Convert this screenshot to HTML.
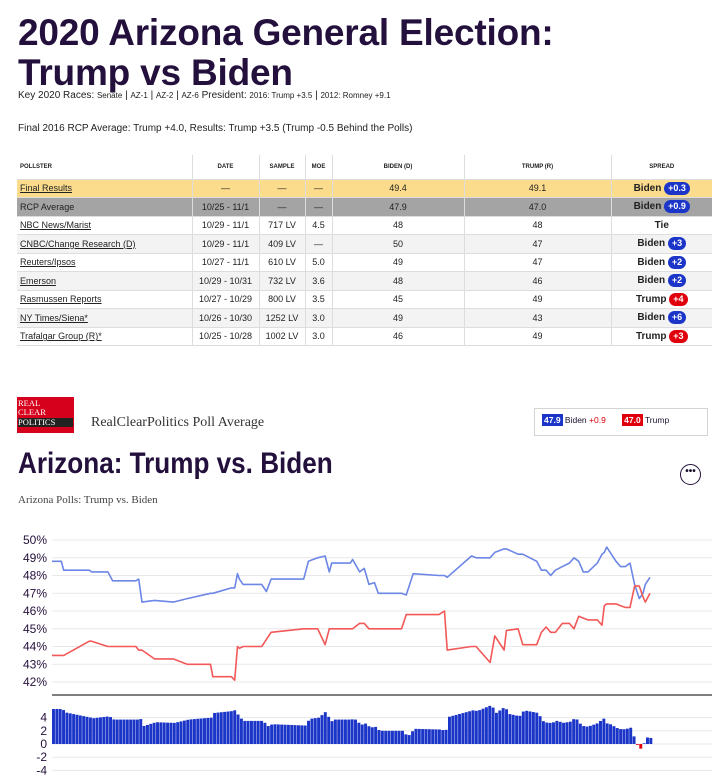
<!DOCTYPE html>
<html><head><meta charset="utf-8">
<style>
*{box-sizing:border-box;margin:0;padding:0}
body{width:719px;height:783px;background:#fff;font-family:"Liberation Sans",sans-serif;color:#1b1030;position:relative;overflow:hidden}
.abs{position:absolute}
h1{position:absolute;left:18px;top:13px;font-size:37px;line-height:40px;font-weight:bold;color:#24103c;letter-spacing:-0.2px}
.key{left:18px;top:90px;font-size:10px;color:#222}
.key small{font-size:8px}
.final{left:18px;top:123px;font-size:10px;color:#222}
table{position:absolute;left:17px;top:155px;width:695px;border-collapse:collapse;font-size:9px;color:#222}
td,th{border-right:1px solid #ddd;text-align:center;height:18.5px;padding:0 3px}
td:last-child,th:last-child{border-right:none}
th{font-size:6px;font-weight:bold;height:24px;font-family:"Liberation Sans Narrow","Liberation Sans",sans-serif}
tr{border-bottom:1px solid #ddd}
td:first-child,th:first-child{text-align:left}
td a{color:#222;text-decoration:underline}
tr.fin{background:#fbdc8c}
tr.rcp{background:#a4a4a4}
tr.alt{background:#f3f3f3}
.b{display:inline-block;border-radius:8px;color:#fff;font-weight:bold;padding:1px 4px;font-size:9px;line-height:11px}
.bl{background:#1b35c8}.rd{background:#e0000b}
.sp{font-weight:bold;font-family:"Liberation Sans Narrow","Liberation Sans",sans-serif;font-size:10px}
.logo{left:17px;top:397px;width:57px;height:36px;background:#d6001c;font-family:"Liberation Serif",serif;color:#fff;font-size:8.5px;line-height:9px;padding:2px 1px}
.logo .p{background:#222;display:block;margin-top:1px}
.serif{font-family:"Liberation Serif",serif}
</style></head><body>
<h1>2020 Arizona General Election:<br>Trump vs Biden</h1>
<div class="abs key">Key 2020 Races: <small>Senate</small> | <small>AZ-1</small> | <small>AZ-2</small> | <small>AZ-6</small> President: <small>2016: Trump +3.5</small> | <small>2012: Romney +9.1</small></div>
<div class="abs final">Final 2016 RCP Average: Trump +4.0, Results: Trump +3.5 (Trump -0.5 Behind the Polls)</div>
<table>
<colgroup><col style="width:175px"><col style="width:67px"><col style="width:46px"><col style="width:27px"><col style="width:132px"><col style="width:147px"><col></colgroup>
<tr><th>POLLSTER</th><th>DATE</th><th>SAMPLE</th><th>MOE</th><th>BIDEN (D)</th><th>TRUMP (R)</th><th>SPREAD</th></tr>
<tr class="fin"><td><a>Final Results</a></td><td>—</td><td>—</td><td>—</td><td>49.4</td><td>49.1</td><td class="sp">Biden <span class="b bl">+0.3</span></td></tr>
<tr class="rcp"><td>RCP Average</td><td>10/25 - 11/1</td><td>—</td><td>—</td><td>47.9</td><td>47.0</td><td class="sp">Biden <span class="b bl">+0.9</span></td></tr>
<tr><td><a>NBC News/Marist</a></td><td>10/29 - 11/1</td><td>717 LV</td><td>4.5</td><td>48</td><td>48</td><td class="sp">Tie</td></tr>
<tr class="alt"><td><a>CNBC/Change Research (D)</a></td><td>10/29 - 11/1</td><td>409 LV</td><td>—</td><td>50</td><td>47</td><td class="sp">Biden <span class="b bl">+3</span></td></tr>
<tr><td><a>Reuters/Ipsos</a></td><td>10/27 - 11/1</td><td>610 LV</td><td>5.0</td><td>49</td><td>47</td><td class="sp">Biden <span class="b bl">+2</span></td></tr>
<tr class="alt"><td><a>Emerson</a></td><td>10/29 - 10/31</td><td>732 LV</td><td>3.6</td><td>48</td><td>46</td><td class="sp">Biden <span class="b bl">+2</span></td></tr>
<tr><td><a>Rasmussen Reports</a></td><td>10/27 - 10/29</td><td>800 LV</td><td>3.5</td><td>45</td><td>49</td><td class="sp">Trump <span class="b rd">+4</span></td></tr>
<tr class="alt"><td><a>NY Times/Siena*</a></td><td>10/26 - 10/30</td><td>1252 LV</td><td>3.0</td><td>49</td><td>43</td><td class="sp">Biden <span class="b bl">+6</span></td></tr>
<tr><td><a>Trafalgar Group (R)*</a></td><td>10/25 - 10/28</td><td>1002 LV</td><td>3.0</td><td>46</td><td>49</td><td class="sp">Trump <span class="b rd">+3</span></td></tr>
</table>

<div class="abs logo">REAL<br>CLEAR<span class="p">POLITICS</span></div>
<div class="abs serif" style="left:91px;top:415px;font-size:14px;color:#333">RealClearPolitics Poll Average</div>
<div class="abs" style="left:534px;top:408px;width:174px;height:28px;border:1px solid #d4d4d4;font-size:8.5px;padding:6px 0 0 7px">
<span style="background:#1b35c8;color:#fff;font-weight:bold;padding:1px 2px">47.9</span> Biden <span style="color:#e0000b">+0.9</span>
<span style="display:inline-block;width:14px"></span><span style="background:#e0000b;color:#fff;font-weight:bold;padding:1px 2px">47.0</span> Trump</div>
<div class="abs" style="left:18px;top:447px;font-size:30px;font-weight:bold;color:#24103c;font-family:'Liberation Sans Narrow','Liberation Sans',sans-serif;transform:scaleX(0.87);transform-origin:left;white-space:nowrap">Arizona: Trump vs. Biden</div>
<div class="abs" style="left:680px;top:464px;width:21px;height:21px;border:1.5px solid #24103c;border-radius:50%;text-align:center;font-size:10px;line-height:14px;font-weight:bold">•••</div>
<div class="abs serif" style="left:18px;top:494px;font-size:11px;color:#444">Arizona Polls: Trump vs. Biden</div>

<svg id="chart" class="abs" style="left:0;top:0" width="719" height="783"></svg>
<script>
// Series sampled on a common day index
const dayIdx=[0,2,2.5,8,8.5,12,13,18,18.6,19.3,22,26,29,34,34.5,38.5,39.2,39.8,40.2,41,45,46,47,54,55,57,58.6,59.5,60,64,64.5,66,67,68,69.2,70,75,76,77.5,83,84.2,84.8,90,91,94,95,97,97.5,100,101,104,105,106,107,108,109.5,111,112,113,114,115,117,118,118.5,119,121,122,123,124,125,126,126.8,127.3,128.3];
const bidenVals=[48.8,48.8,48.3,48.3,48.2,48.2,47.7,47.7,47.8,46.5,46.6,46.5,46.7,47.0,47.0,47.3,47.3,48.1,47.8,47.5,47.5,47.1,47.8,47.8,48.8,49.0,49.1,48.2,48.7,48.7,48.9,48.2,48.4,47.5,47.6,47.0,47.0,46.9,48.1,48.0,48.0,47.9,49.1,49.0,49.0,49.3,49.5,49.5,49.2,49.2,48.8,48.3,48.3,48.0,48.3,48.5,48.7,49.0,48.8,48.2,48.2,48.7,49.2,49.3,49.6,48.8,48.5,48.5,48.7,47.5,46.7,47.0,47.5,47.9];
const trumpVals=[43.5,43.5,43.5,44.3,44.3,44.0,44.0,44.0,43.8,43.8,43.3,43.3,43.0,43.0,42.3,42.3,42.1,44.0,43.9,44.0,44.0,44.4,44.8,45.0,45.0,45.0,44.1,45.0,45.0,45.0,45.0,45.3,45.3,45.0,45.0,45.0,45.0,45.8,45.8,45.8,46.0,43.8,44.0,44.0,43.1,44.6,43.8,44.9,45.0,44.1,44.1,44.8,45.1,44.8,44.8,45.3,45.3,45.0,45.7,45.6,45.5,45.5,45.2,46.3,46.4,46.4,46.3,46.2,46.2,47.4,47.4,46.8,46.5,47.0];
const yTicks=[50,49,48,47,46,45,44,43,42];
const spreadTicks=[4,2,0,-2,-4];
</script>
<script>
const svg=document.getElementById('chart');
const NS='http://www.w3.org/2000/svg';
const X0=52,X1=650,XR=712,DMAX=128.3;
const x=d=>X0+(d/DMAX)*(X1-X0);
const y=v=>540+(50-v)*17.75;
const yb=v=>744-v*6.6;
function el(t,a){const e=document.createElementNS(NS,t);for(const k in a)e.setAttribute(k,a[k]);svg.appendChild(e);return e;}
yTicks.forEach(v=>{
 const l=el('line',{x1:X0,x2:XR,y1:y(v),y2:y(v),stroke:'#e8e8e8','stroke-width':1});
 
 
 const t=el('text',{x:47,y:y(v)+4,'text-anchor':'end','font-size':12,fill:'#24103c','font-family':'Liberation Sans Narrow, Liberation Sans, sans-serif'});
 t.textContent=v+'%';
 
 
});
const sep=el('line',{x1:X0,x2:XR,y1:695,y2:695,stroke:'#555','stroke-width':1.5});


spreadTicks.forEach(v=>{
 const l=el('line',{x1:X0,x2:XR,y1:yb(v),y2:yb(v),stroke:'#e8e8e8','stroke-width':1});
 
 
 const t=el('text',{x:47,y:yb(v)+4,'text-anchor':'end','font-size':12,fill:'#24103c','font-family':'Liberation Sans Narrow, Liberation Sans, sans-serif'});
 t.textContent=v;
 
 
});
function interp(arr,d){for(let i=1;i<dayIdx.length;i++){if(d<=dayIdx[i]){const a=dayIdx[i-1],b=dayIdx[i];const f=b===a?1:(d-a)/(b-a);return arr[i-1]+(arr[i]-arr[i-1])*f;}}return arr[arr.length-1];}
const step=0.72;
for(let d=0;d<=DMAX+0.01;d+=step){
 const s=interp(bidenVals,d)-interp(trumpVals,d);
 const r=el('rect',{x:x(d),width:(X1-X0)*step/DMAX-0.4,y:Math.min(yb(0),yb(s)),height:Math.abs(yb(s)-yb(0)),fill:s>=0?'#1b35c8':'#e0000b'});
 
 
}
function line(arr,c,name){
 const p=el('path',{d:arr.map((v,i)=>(i?'L':'M')+x(dayIdx[i]).toFixed(1)+','+y(v).toFixed(1)).join(''),fill:'none',stroke:c,'stroke-width':1.6,'stroke-linejoin':'round'});
 
 
}
line(bidenVals,'#6c86e6','biden-line');
line(trumpVals,'#f25858','trump-line');
</script>
</body></html>
